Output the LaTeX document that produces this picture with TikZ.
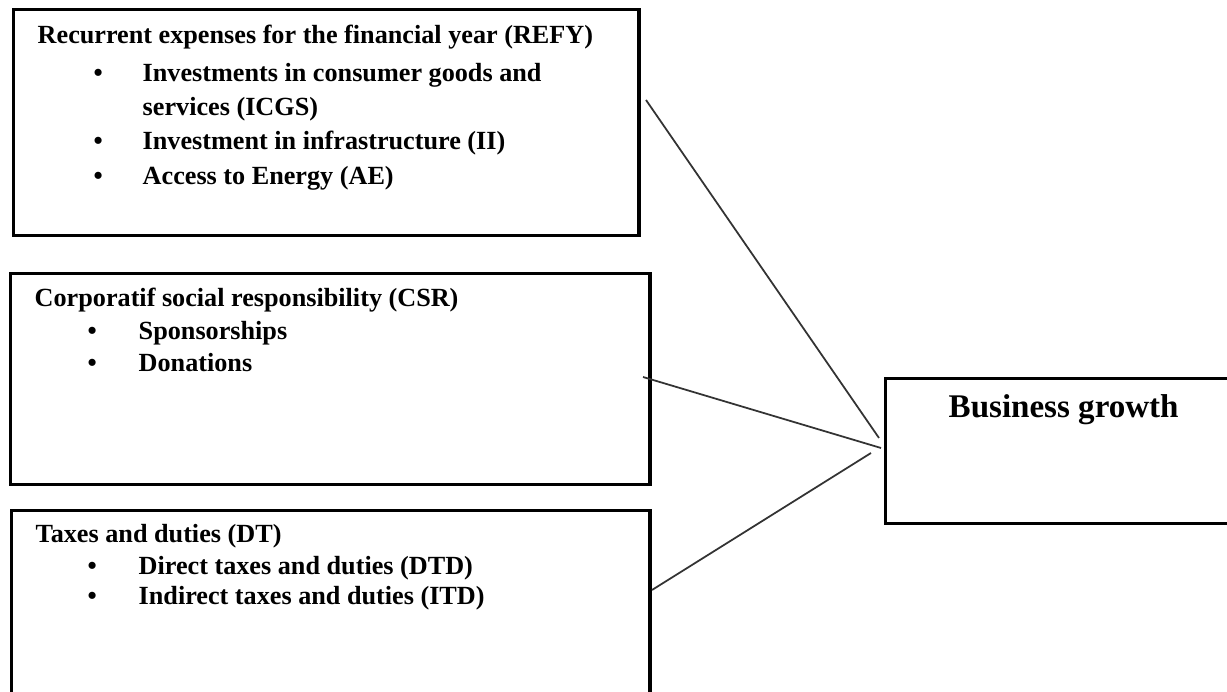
\documentclass[tikz,border=0pt]{standalone}
\usepackage{fontspec}
\setmainfont{Liberation Serif}
\tikzset{
  box/.style={draw, line width=0.9pt, anchor=north west, inner sep=0pt},
  txt/.style={anchor=base west, inner sep=0pt, font=\fontsize{7.45}{9}\selectfont\bfseries},
  link/.style={draw=black!80, line width=0.5pt}
}
\begin{document}
\begin{tikzpicture}[x=0.01cm, y=-0.01cm]
  \useasboundingbox (0,0) rectangle (1227,692);
  \clip (0,0) rectangle (1227,692);
  % boxes
  \node[box, minimum width=6.25cm, minimum height=2.26cm] (refy) at (12,8) {};
  \node[box, minimum width=6.39cm, minimum height=2.11cm] (csr) at (9,272) {};
  \node[box, minimum width=6.38cm, minimum height=2.2cm] (dt) at (10,509) {};
  \node[box, minimum width=3.6cm, minimum height=1.45cm] (growth) at (884,377) {};
  % texts
  \node[txt] (refyt) at (37,44) {Recurrent expenses for the financial year (REFY)};
  \foreach \y [count=\i] in {82,150,185}
    \node[txt] (refyb\i) at (93,\y) {\textbullet};
  \node[txt] (refy1) at (142,82) {Investments in consumer goods and};
  \node[txt] (refy1b) at (142,116) {services (ICGS)};
  \node[txt] (refy2) at (142,150) {Investment in infrastructure (II)};
  \node[txt] (refy3) at (142,185) {Access to Energy (AE)};
  \node[txt] (csrt) at (34,307) {Corporatif social responsibility (CSR)};
  \foreach \y/\t [count=\i] in {340/Sponsorships, 372/Donations} {
    \node[txt] (csrb\i) at (87,\y) {\textbullet};
    \node[txt] (csr\i) at (138,\y) {\t};
  }
  \node[txt] (dtt) at (35,543) {Taxes and duties (DT)};
  \foreach \y/\t [count=\i] in {575/Direct taxes and duties (DTD), 605/Indirect taxes and duties (ITD)} {
    \node[txt] (dtb\i) at (87,\y) {\textbullet};
    \node[txt] (dt\i) at (138,\y) {\t};
  }
  \node[txt, font=\fontsize{9.4}{11}\selectfont\bfseries] (growtht) at (948,418) {Business growth};
  % connectors
  \coordinate (refyout) at (646,100);
  \coordinate (csrout) at (643,377);
  \coordinate (dtout) at (652,590);
  \coordinate (gin1) at (879,438);
  \coordinate (gin2) at (881,448);
  \coordinate (gin3) at (871,453);
  \draw[link] (refyout) -- (gin1);
  \draw[link] (csrout) -- (gin2);
  \draw[link] (dtout) -- (gin3);
\end{tikzpicture}
\end{document}
